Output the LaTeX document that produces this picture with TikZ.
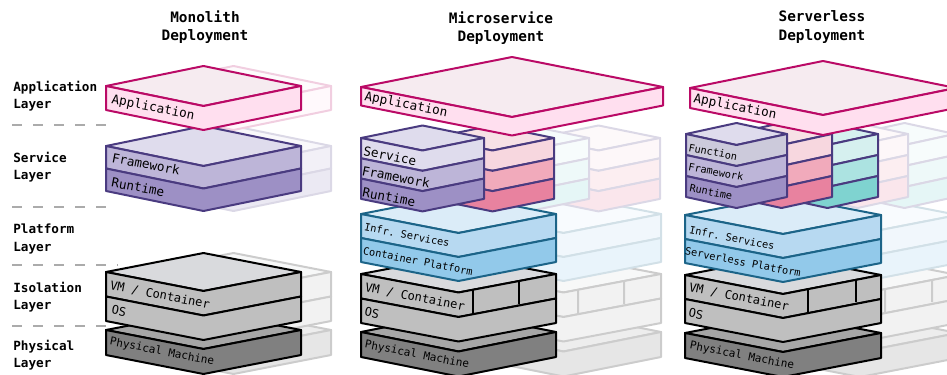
\documentclass[tikz,border=0pt]{standalone}
\usepackage{fontspec}
\setmonofont{DejaVu Sans Mono}
\usetikzlibrary{positioning}

\definecolor{appline}{HTML}{BA0A66}
\definecolor{apptop}{HTML}{F6EBF0}
\definecolor{appface}{HTML}{FFDFEF}
\definecolor{svcline}{HTML}{4A3B80}
\definecolor{svctop}{HTML}{DFDCED}
\definecolor{svcgray}{HTML}{CCCADB}
\definecolor{svcmid}{HTML}{BDB5D8}
\definecolor{svclow}{HTML}{9D90C5}
\definecolor{redtop}{HTML}{F7E1E6}
\definecolor{redhigh}{HTML}{F7D7DF}
\definecolor{redmid}{HTML}{F1AABB}
\definecolor{redlow}{HTML}{E8829F}
\definecolor{tealtop}{HTML}{D6F0EF}
\definecolor{tealmid}{HTML}{ACE3E1}
\definecolor{teallow}{HTML}{7FD3D0}
\definecolor{infline}{HTML}{1C6488}
\definecolor{inftop}{HTML}{DBECF8}
\definecolor{infmid}{HTML}{B7D9F1}
\definecolor{inflow}{HTML}{92C9EA}
\definecolor{isotop}{HTML}{D9DADD}
\definecolor{isoface}{HTML}{BFBFBF}
\definecolor{phytop}{HTML}{A6A6A6}
\definecolor{phyface}{HTML}{808080}

\tikzset{
  slabline/.style={line width=1.5pt,line join=round},
  ghost/.style={opacity=.2,transparency group},
  layerdash/.style={line width=2.2pt,color=black!33,dash pattern=on 7.5pt off 8.3pt},
  headtxt/.style={font=\ttfamily\bfseries\fontsize{10.8}{14}\selectfont,align=center},
  layertxt/.style={font=\ttfamily\bfseries\fontsize{9.5}{13.2}\selectfont,align=left,anchor=west,inner sep=0pt},
  biglbl/.style={font=\ttfamily\fontsize{9.5}{11}\selectfont,rotate=-11,inner sep=0pt},
  vmlbl/.style={font=\ttfamily\fontsize{9}{11}\selectfont,rotate=-11,inner sep=0pt},
  midlbl/.style={font=\ttfamily\fontsize{8.25}{10}\selectfont,rotate=-11,inner sep=0pt},
  smalllbl/.style={font=\ttfamily\fontsize{7.7}{9}\selectfont,rotate=-11,inner sep=0pt},
}

% left x, top y, half width, half depth, face height, line colour, top colour, face colours
\newcommand{\slab}[8]{%
  \draw [slabline,draw=#6,fill=#7] (#1,#2) -- ++(#3,-#4) -- ++(#3,#4) -- ++(-#3,#4) -- cycle;
  \foreach \facecol [count=\n from 0] in {#8}
    \draw [slabline,draw=#6,fill=\facecol] (#1,{#2+\n*#5}) -- ++(#3,#4) -- ++(#3,-#4) -- ++(0,#5) -- ++(-#3,#4) -- ++(-#3,-#4) -- cycle;
}

\begin{document}
\begin{tikzpicture}[x=0.75pt,y=-0.75pt]
	\useasboundingbox (0,0) rectangle (947,375);

	%%column titles
	\node [headtxt] (headmono) at (205,27) {Monolith\\Deployment};
	\node [headtxt] (headmicro) at (501,28) {Microservice\\Deployment};
	\node [headtxt] (headless) at (822,27) {Serverless\\Deployment};

	%%layer names
	\node [layertxt] (appname) at (13,96) {Application\\Layer};
	\node [layertxt] (svcname) at (13,167) {Service\\Layer};
	\node [layertxt] (platname) at (13,239) {Platform\\Layer};
	\node [layertxt] (isoname) at (13,297) {Isolation\\Layer};
	\node [layertxt] (phyname) at (13,355) {Physical\\Layer};

	%%separators
	\draw [layerdash] (12,125) -- (106,125);
	\draw [layerdash] (12,207) -- (107,207);
	\draw [layerdash] (12,265) -- (118,265);
	\draw [layerdash] (12,326) -- (110,326);

	%%monolith shadows
	\begin{scope}[ghost]
		\slab{136}{330}{97.5}{19}{25}{black}{phytop}{phyface}
		\slab{136}{272}{97.5}{19}{24.5}{black}{isotop}{isoface,isoface}
		\slab{136}{146}{97.5}{20}{22.5}{svcline}{svctop}{svcmid,svclow}
		\slab{136}{86}{97.5}{20}{24}{appline}{apptop}{appface}
	\end{scope}
	%%monolith
	\slab{106}{330}{97.5}{19}{25}{black}{phytop}{phyface}
	\slab{106}{272}{97.5}{19}{24.5}{black}{isotop}{isoface,isoface}
	\slab{106}{146}{97.5}{20}{22.5}{svcline}{svctop}{svcmid,svclow}
	\slab{106}{86}{97.5}{20}{24}{appline}{apptop}{appface}
	\node [biglbl] (monoapp) at (153,108) {Application};
	\node [biglbl] (monofw) at (146,164) {Framework};
	\node [biglbl] (monort) at (138,187) {Runtime};
	\node [vmlbl] (monovm) at (160,295) {VM / Container};
	\node [vmlbl] (monoos) at (119,311) {OS};
	\node [midlbl] (monophy) at (162,352) {Physical Machine};

	%%microservice shadows
	\begin{scope}[ghost]
		\slab{466}{332}{97.5}{19.5}{25}{black}{phytop}{phyface}
		\slab{466}{274}{97.5}{18.5}{24.5}{black}{isotop}{isoface,isoface}
		\draw [slabline] (578,289) -- (578,314);
		\draw [slabline] (624,281) -- (624,304);
		\slab{466}{214}{97.5}{19}{24}{infline}{inftop}{infmid,inflow}
		\slab{537}{138}{61.5}{12.5}{20.3}{svcline}{redtop}{redhigh,redmid,redlow}
		\slab{466}{138}{61.5}{12.5}{20.3}{svcline}{tealtop}{tealtop,tealmid,teallow}
	\end{scope}
	%%microservice
	\slab{361}{332}{97.5}{19.5}{25}{black}{phytop}{phyface}
	\slab{361}{274}{97.5}{18.5}{24.5}{black}{isotop}{isoface,isoface}
	\draw [slabline] (473,289) -- (473,314);
	\draw [slabline] (519,281) -- (519,304);
	\slab{361}{214}{97.5}{19}{24}{infline}{inftop}{infmid,inflow}
	\slab{431}{138}{61.5}{12.5}{20.3}{svcline}{redtop}{redhigh,redmid,redlow}
	\slab{361}{138}{61.5}{12.5}{20.3}{svcline}{svctop}{svctop,svcmid,svclow}
	\slab{361}{87}{151}{30}{18.5}{appline}{apptop}{appface}
	\node [biglbl] (microapp) at (406,105) {Application};
	\node [biglbl] (microsvc) at (390,156) {Service};
	\node [biglbl] (microfw) at (396,177) {Framework};
	\node [biglbl] (micrort) at (389,197) {Runtime};
	\node [smalllbl] (microinf) at (407,235) {Infr. Services};
	\node [smalllbl] (microcp) at (418,261) {Container Platform};
	\node [vmlbl] (microvm) at (415,297) {VM / Container};
	\node [vmlbl] (microos) at (372,313) {OS};
	\node [midlbl] (microphy) at (417,355) {Physical Machine};

	%%serverless shadows
	\begin{scope}[ghost]
		\slab{762}{333}{98}{19}{25}{black}{phytop}{phyface}
		\slab{762}{275}{98}{19}{24}{black}{isotop}{isoface,isoface}
		\draw [slabline] (885,288) -- (885,312);
		\draw [slabline] (932,280) -- (932,302);
		\slab{762}{215}{98}{19}{24}{infline}{inftop}{infmid,inflow}
		\slab{854}{134}{50.5}{11}{21}{svcline}{tealtop}{tealtop,tealmid,teallow}
		\slab{807}{134}{50.5}{11}{21}{svcline}{redtop}{redhigh,redmid,redlow}
	\end{scope}
	%%serverless
	\slab{685}{333}{98}{19}{25}{black}{phytop}{phyface}
	\slab{685}{275}{98}{19}{24}{black}{isotop}{isoface,isoface}
	\draw [slabline] (808,288) -- (808,312);
	\draw [slabline] (856,280) -- (856,302);
	\slab{685}{215}{98}{19}{24}{infline}{inftop}{infmid,inflow}
	\slab{777}{134}{50.5}{11}{21}{svcline}{tealtop}{tealtop,tealmid,teallow}
	\slab{731}{134}{50.5}{11}{21}{svcline}{redtop}{redhigh,redmid,redlow}
	\slab{686}{134}{50.5}{11}{21}{svcline}{svctop}{svcgray,svcmid,svclow}
	\slab{690}{88}{133}{27}{20}{appline}{apptop}{appface}
	\node [biglbl] (lessapp) at (735,107) {Application};
	\node [smalllbl] (lessfn) at (713,152) {Function};
	\node [smalllbl] (lessfw) at (716,172) {Framework};
	\node [smalllbl] (lessrt) at (711,192) {Runtime};
	\node [smalllbl] (lessinf) at (732,238) {Infr. Services};
	\node [smalllbl] (lesssp) at (743,262) {Serverless Platform};
	\node [vmlbl] (lessvm) at (739,297) {VM / Container};
	\node [vmlbl] (lessos) at (696,314) {OS};
	\node [midlbl] (lessphy) at (742,356) {Physical Machine};
\end{tikzpicture}
\end{document}
